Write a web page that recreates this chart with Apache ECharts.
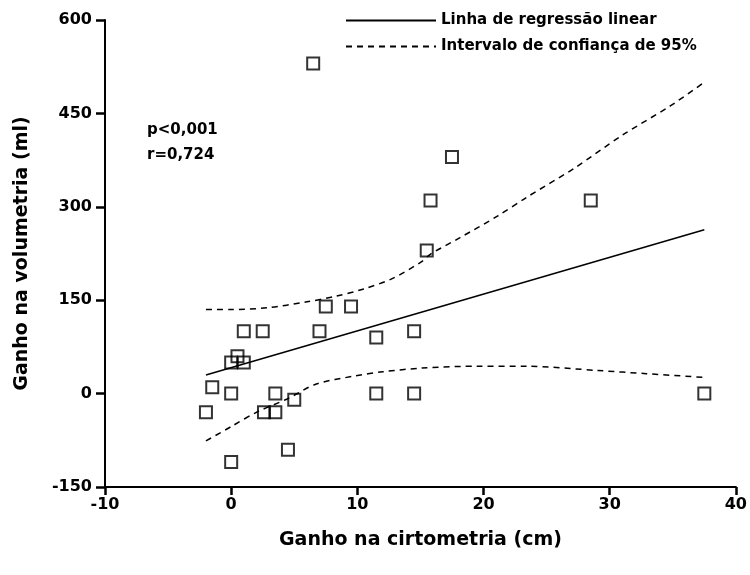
<!DOCTYPE html>
<html>
<head>
<meta charset="utf-8">
<script src="https://cdn.jsdelivr.net/npm/echarts@6/dist/echarts.min.js"></script>
<style>html,body{margin:0;padding:0;background:#fff}#c{width:750px;height:575px}</style>
</head>
<body>
<div id="c"></div>
<script>
// Data
const pointsX = [6.5, 17.5, 15.8, 28.5, 15.5, 7.5, 9.5, 1.0, 2.5, 7.0, 11.5, 14.5, 0.5, 0.0, 1.0, -1.5, 0.0, 3.5, 11.5, 14.5, 37.5, -2.0, 2.6, 3.5, 5.0, 4.5, 0.0];
const pointsY = [530, 380, 310, 310, 230, 140, 140, 100, 100, 100, 90, 100, 60, 50, 50, 10, 0, 0, 0, 0, 0, -30, -30, -30, -10, -90, -110];
const regX = [-2, 37.5];
const regY = [30, 263];
const upperX = [-2, 0, 2.9, 5.9, 8.2, 10.5, 12.8, 15.1, 15.8, 18.1, 21.1, 23.4, 27.2, 31, 34.8, 37.5];
const upperY = [135, 135, 138, 147, 156, 168, 185, 212, 224, 250, 285, 315, 362, 415, 462, 500];
const lowerX = [-2, 0, 2.1, 4.4, 6.7, 9.7, 12, 15.1, 19.6, 23.4, 29.1, 32.9, 37.5];
const lowerY = [-76, -53, -29, -9, 15, 28, 35, 41, 44, 44, 37, 32, 26];
const xTicks = [-10, 0, 10, 20, 30, 40];
const yTicks = [-150, 0, 150, 300, 450, 600];
const legendNames = ['Linha de regressão linear', 'Intervalo de confiança de 95%'];
const xTitle = 'Ganho na cirtometria (cm)';
const yTitle = 'Ganho na volumetria (ml)';
const statsText = ['p<0,001', 'r=0,724'];

const zip = (a, b) => a.map((v, i) => [v, b[i]]);
const FONT = '"DejaVu Sans", "Liberation Sans", sans-serif';

const chart = echarts.init(document.getElementById('c'), null, {renderer: 'canvas'});
chart.setOption({
  backgroundColor: '#fff',
  animation: false,
  grid: {left: 105, right: 13, top: 20, bottom: 88, containLabel: false},
  legend: {
    orient: 'vertical', left: 345, top: 13, itemGap: 11, padding: 0,
    itemWidth: 90, itemHeight: 14,
    data: legendNames,
    itemStyle: {color: 'rgba(0,0,0,0)', borderWidth: 0, opacity: 0},
    textStyle: {fontFamily: FONT, fontWeight: 'bold', fontSize: 15, color: '#000'},
    selectedMode: false
  },
  xAxis: {
    type: 'value', min: xTicks[0], max: xTicks[xTicks.length - 1], interval: 10,
    name: xTitle, nameLocation: 'middle', nameGap: 44,
    nameTextStyle: {fontFamily: FONT, fontWeight: 'bold', fontSize: 19, color: '#000'},
    axisLine: {onZero: false, lineStyle: {color: '#000', width: 2}},
    axisTick: {show: true, inside: false, length: 8, lineStyle: {color: '#000', width: 2.5}},
    axisLabel: {fontFamily: FONT, fontWeight: 'bold', fontSize: 16, color: '#000', margin: 10},
    splitLine: {show: false}
  },
  yAxis: {
    type: 'value', min: yTicks[0], max: yTicks[yTicks.length - 1], interval: 150,
    name: yTitle, nameLocation: 'middle', nameGap: 73,
    nameTextStyle: {fontFamily: FONT, fontWeight: 'bold', fontSize: 19, color: '#000'},
    axisLine: {show: true, onZero: false, lineStyle: {color: '#000', width: 2}},
    axisTick: {show: true, inside: false, length: 9, lineStyle: {color: '#000', width: 2.5}},
    axisLabel: {fontFamily: FONT, fontWeight: 'bold', fontSize: 16, color: '#000', margin: 13},
    splitLine: {show: false}
  },
  graphic: statsText.map((t, i) => ({
    type: 'text', left: 147, top: 123 + i * 25,
    style: {text: t, font: 'bold 15px ' + FONT, fill: '#000'}
  })),
  series: [
    {
      name: legendNames[0], type: 'line', data: zip(regX, regY),
      showSymbol: false, symbol: 'none', lineStyle: {color: '#000', width: 1.5, type: 'solid'},
      itemStyle: {color: '#000'}, z: 3
    },
    {
      name: legendNames[1], type: 'line', data: zip(upperX, upperY), smooth: 0.3,
      showSymbol: false, symbol: 'none', lineStyle: {color: '#000', width: 1.5, type: [6, 5]},
      itemStyle: {color: '#000'}, z: 3
    },
    {
      name: legendNames[1], type: 'line', data: zip(lowerX, lowerY), smooth: 0.3,
      showSymbol: false, symbol: 'none', lineStyle: {color: '#000', width: 1.5, type: [6, 5]},
      itemStyle: {color: '#000'}, z: 3
    },
    {
      name: 'pontos', type: 'scatter', data: zip(pointsX, pointsY),
      symbol: 'rect', symbolSize: 12,
      itemStyle: {color: 'rgba(255,255,255,0)', borderColor: '#000', borderWidth: 2}, z: 4
    }
  ]
});
</script>
</body>
</html>
